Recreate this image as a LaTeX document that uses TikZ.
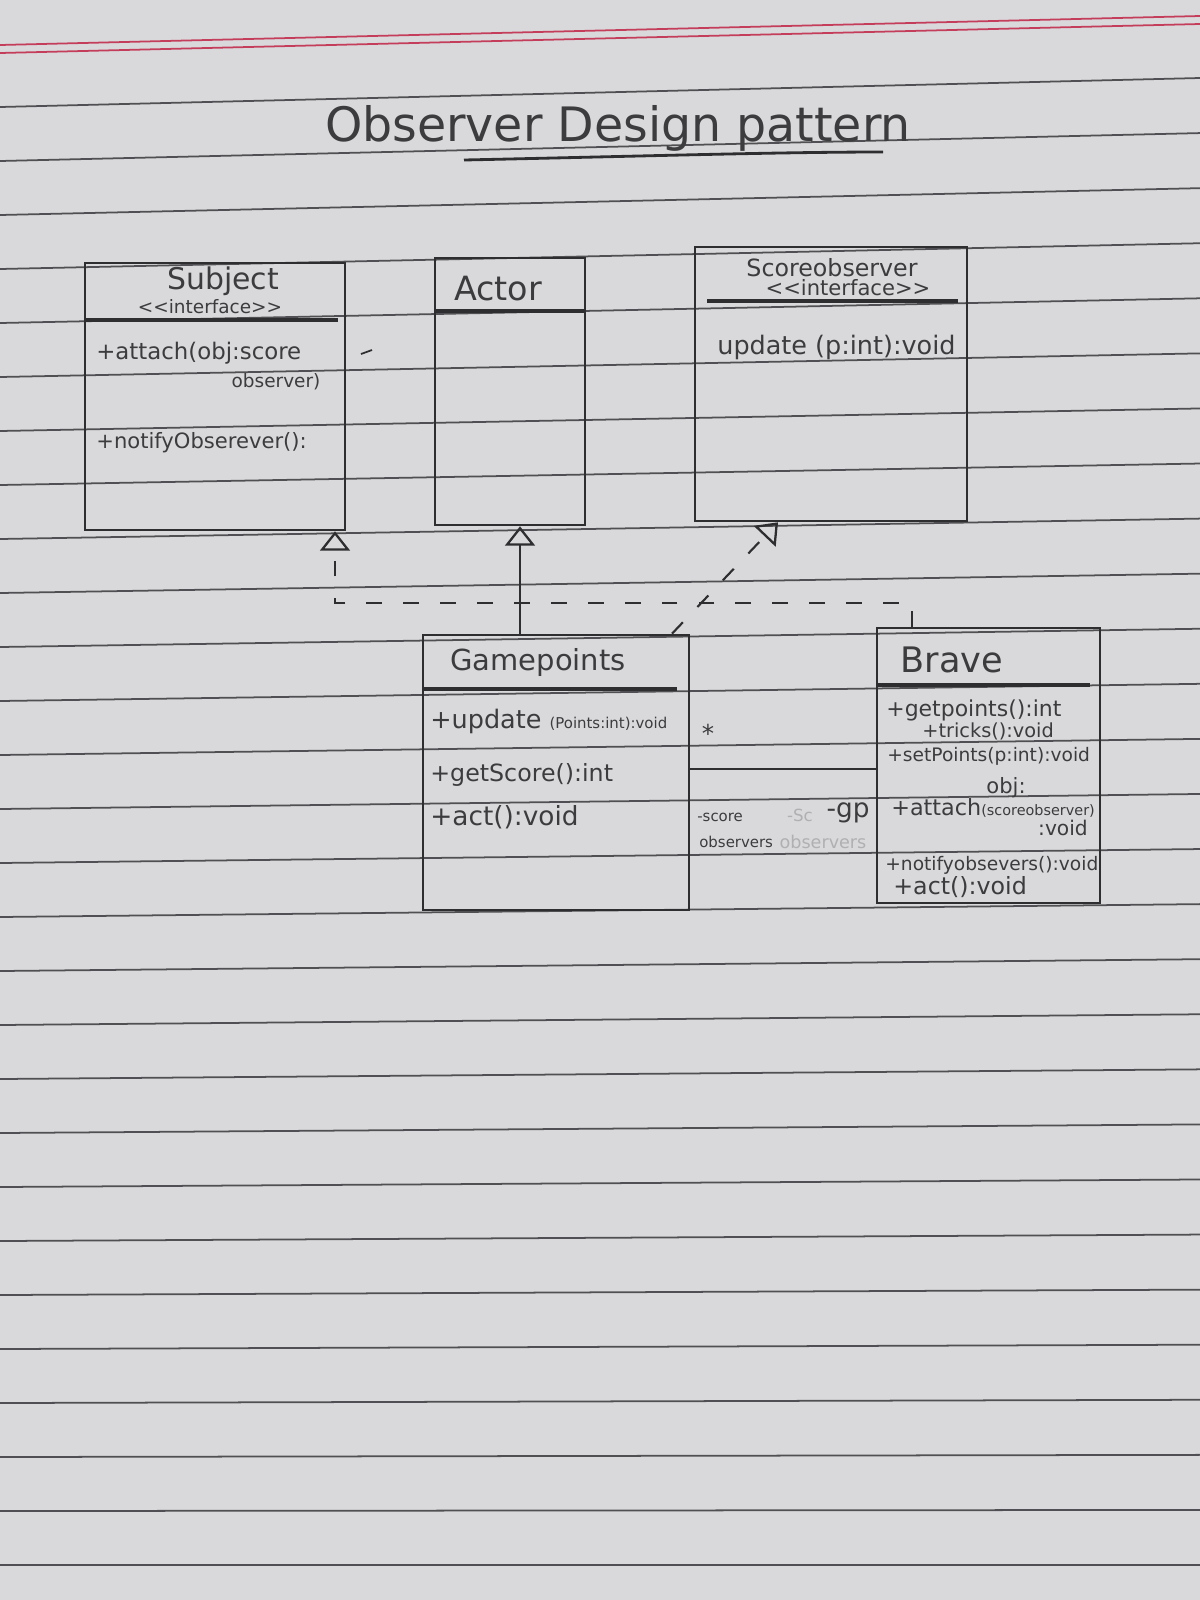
\documentclass[tikz,border=0pt]{standalone}
\usepackage{fontspec}
\setmainfont{DejaVu Sans}
\usetikzlibrary{fit,arrows.meta}

\definecolor{paper}{RGB}{217,216,218}
\definecolor{ruling}{RGB}{80,80,84}
\definecolor{margin}{RGB}{196,62,92}
\definecolor{pencil}{RGB}{46,46,48}
\definecolor{ink}{RGB}{60,60,62}
\definecolor{faint}{RGB}{176,175,178}

% font size helper: size in pt, single line
\newcommand{\fs}[1]{\fontsize{#1}{#1}\selectfont}

\begin{document}
\begin{tikzpicture}[x=0.02cm, y=-0.02cm,
  classbox/.style={draw=pencil, line width=1.5pt, inner sep=0pt},
  sepline/.style={draw=pencil, line width=1.9pt},
  txt/.style={text=ink, inner sep=0pt},
  mem/.style={txt, anchor=west},
  gen/.style={draw=pencil, line width=1.2pt,
    -{Triangle[open, length=11pt, width=17pt, line width=1.3pt]}},
  real/.style={gen, dash pattern=on 9pt off 12pt},
  assoc/.style={draw=pencil, line width=1.6pt},
]

% notebook page
\fill[paper] (0,0) rectangle (1200,1600);
\useasboundingbox (0,0) rectangle (1200,1600);

% ruled lines
\foreach \k in {0,...,27} {
  \pgfmathsetmacro{\yl}{107+54*\k}
  \pgfmathsetmacro{\yr}{\yl-29*(1-\k/27)}
  \draw[ruling, line width=1pt] (0,\yl) -- (1200,\yr);
}
% red header margin
\draw[margin, line width=1pt] (0,45) -- (1200,16);
\draw[margin, line width=1pt] (0,53) -- (1200,24);

% title
\node[txt, font=\fs{27}] (title) at (618,128) {Observer Design pattern};
\draw[pencil, line width=1.6pt] (464,160) .. controls (650,156) and (780,152) .. (883,152);

% class boxes
\node[classbox, fit={(85,263) (345,530)}] (subject) {};
\node[classbox, fit={(435,258) (585,525)}] (actor) {};
\node[classbox, fit={(695,247) (967,521)}] (scoreobs) {};
\node[classbox, fit={(423,635) (689,910)}] (gamepoints) {};
\node[classbox, fit={(877,628) (1100,903)}] (brave) {};

% name compartments
\draw[sepline] (85,320) -- (338,320);
\draw[sepline] (435,311) -- (585,311);
\draw[sepline] (707,301) -- (958,301);
\draw[sepline] (423,689) -- (677,689);
\draw[sepline] (877,685) -- (1090,685);

% Subject
\node[txt, font=\fs{17}] (subjname) at (223,281) {Subject};
\node[txt, font=\fs{10.5}] (subjster) at (210,307) {<\kern0pt<interface>\kern0pt>};
\node[mem, font=\fs{13}] (subjatt) at (96,353) {+attach(obj:score};
\node[txt, font=\fs{10.5}] (subjatt2) at (276,382) {observer)};
\node[mem, font=\fs{12}] (subjnot) at (96,443) {+notifyObserever():};
\draw[pencil, line width=1pt] (361,354) -- (372,350);

% Actor
\node[txt, font=\fs{19}] (actorname) at (498,289) {Actor};

% Scoreobserver
\node[txt, font=\fs{13.5}] (soname) at (832,268) {Scoreobserver};
\node[txt, font=\fs{12}] (soster) at (848,288) {<\kern0pt<interface>\kern0pt>};
\node[mem, font=\fs{14.5}] (soupd) at (717,347) {update (p:int):void};

% Gamepoints
\node[txt, font=\fs{16.5}] (gpname) at (538,662) {Gamepoints};
\node[mem] (gpupd) at (430,721) {\fs{14.5}+update {\fs{8.5}(Points:int):void}};
\node[mem, font=\fs{13.5}] (gpscore) at (430,775) {+getScore():int};
\node[mem, font=\fs{15}] (gpact) at (430,817) {+act():void};

% Brave
\node[txt, font=\fs{20}] (bname) at (952,660) {Brave};
\node[mem, font=\fs{12.5}] (bget) at (886,710) {+getpoints():int};
\node[mem, font=\fs{11}] (btr) at (922,731) {+tricks():void};
\node[mem, font=\fs{10.6}] (bset) at (887,756) {+setPoints(p:int):void};
\node[txt, font=\fs{12}] (bobj) at (1006,788) {obj:};
\node[mem] (batt) at (891,808) {\fs{12.7}+attach{\fs{8.2}(scoreobserver)}};
\node[txt, font=\fs{11.5}] (bvoid) at (1063,828) {:void};
\node[mem, font=\fs{10.6}] (bnot) at (885,865) {+notifyobsevers():void};
\node[mem, font=\fs{13.5}] (bact) at (893,887) {+act():void};

% relations
\coordinate (gx) at (520,0);
\draw[gen] (gamepoints.north -| gx) -- (actor.south -| gx);

\coordinate (bx) at (912,0);
\coordinate (lvl) at (335,603);
\draw[real] (brave.north -| bx) |- (lvl) -- (subject.south -| lvl);

\coordinate (g2) at (672,0);
\coordinate (s2) at (778,0);
\draw[real] (gamepoints.north -| g2) -- (scoreobs.south -| s2);

\coordinate (ay) at (0,769);
\draw[assoc] (gamepoints.east |- ay) -- (brave.west |- ay);

% association labels
\node[txt, font=\fs{14}] (mult) at (708,733) {*};
\node[mem, font=\fs{8.5}] (role1) at (697,817) {-score};
\node[mem, font=\fs{8.5}] (role1b) at (699,842) {observers};
\node[txt, font=\fs{9.5}, text=faint] (old1) at (800,815) {-Sc};
\node[txt, font=\fs{10}, text=faint] (old2) at (823,842) {observers};
\node[txt, font=\fs{15}] (role2) at (848,813) {-gp};

\end{tikzpicture}
\end{document}
